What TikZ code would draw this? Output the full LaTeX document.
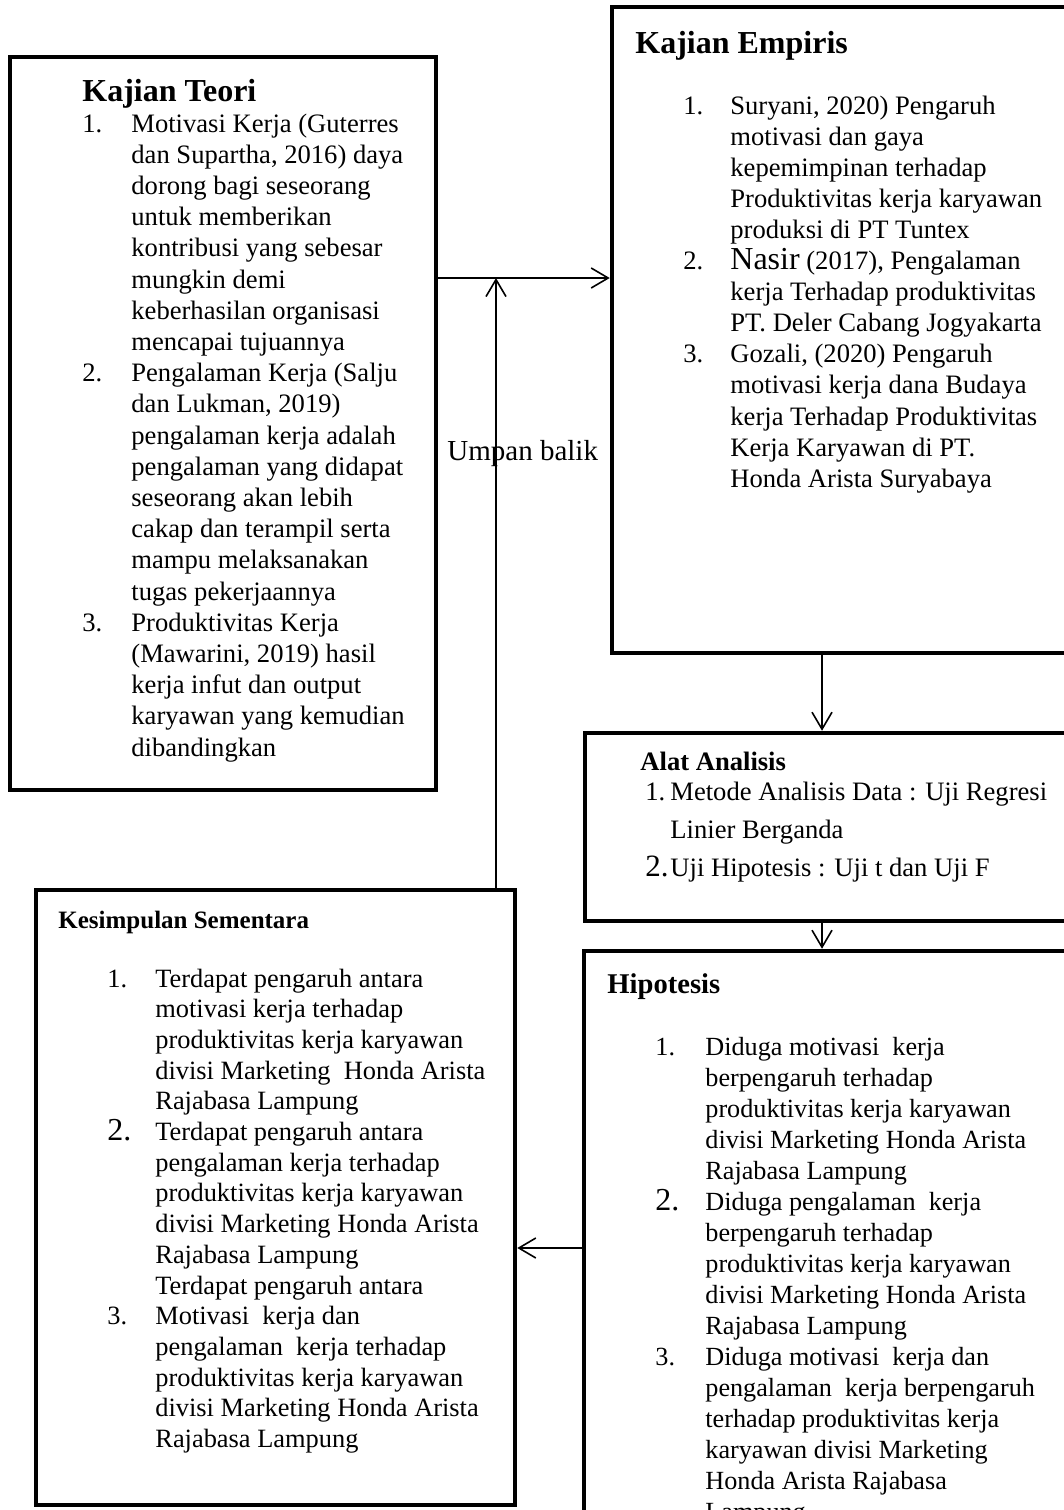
\documentclass[tikz,border=0pt]{standalone}
\usepackage{fontspec}
\setmainfont{Liberation Serif}
\usepackage{array}
\usetikzlibrary{arrows.meta}

\tikzset{
  kotak/.style={draw, line width=2.25pt, inner sep=0pt},
  panah/.style={-{Straight Barb[length=8.5pt,width=10pt]}, line width=0.8pt},
  isi/.style={inner sep=0pt, anchor=base west},
  judul/.style={inner sep=0pt, anchor=base west}
}

\begin{document}
\begin{tikzpicture}[x=0.5pt,y=-0.5pt]
\useasboundingbox (0,0) rectangle (1064,1510);
\clip (0,0) rectangle (1064,1510);

\node[kotak, minimum width=213pt, minimum height=366.5pt] (teori) at (223,423.5) {};
\node[kotak, minimum width=239pt, minimum height=323pt] (empiris) at (851,330) {};
\node[kotak, minimum width=252.5pt, minimum height=94pt] (alat) at (837.5,827) {};
\node[kotak, minimum width=253pt, minimum height=304.5pt] (hipotesis) at (837,1255.5) {};
\node[kotak, minimum width=239.5pt, minimum height=307.5pt] (kesimpulan) at (275.5,1197.5) {};

\coordinate (balik) at (496,278);
\coordinate (lajur) at (822,0);
\coordinate (bawah) at (0,1248);

\node[judul, font={\fontsize{16}{18}\selectfont\bfseries}] (teoriJudul) at (82,101) {Kajian Teori};
\node[isi, font={\fontsize{13.3}{15.6}\selectfont}] (teoriIsi) at (82,132) {%
\begin{tabular}[t]{@{}p{24.5pt}@{}l@{}}
1. & Motivasi Kerja (Guterres\\
 & dan Supartha, 2016) daya\\
 & dorong bagi seseorang\\
 & untuk memberikan\\
 & kontribusi yang sebesar\\
 & mungkin demi\\
 & keberhasilan organisasi\\
 & mencapai tujuannya\\
2. & Pengalaman Kerja (Salju\\
 & dan Lukman, 2019)\\
 & pengalaman kerja adalah\\
 & pengalaman yang didapat\\
 & seseorang akan lebih\\
 & cakap dan terampil serta\\
 & mampu melaksanakan\\
 & tugas pekerjaannya\\
3. & Produktivitas Kerja\\
 & (Mawarini, 2019) hasil\\
 & kerja infut dan output\\
 & karyawan yang kemudian\\
 & dibandingkan
\end{tabular}};

\node[judul, font={\fontsize{16}{18}\selectfont\bfseries}] (empirisJudul) at (635,53) {Kajian Empiris};
\node[isi, font={\fontsize{13.3}{15.55}\selectfont}] (empirisIsi) at (683,114) {%
\begin{tabular}[t]{@{}p{23.5pt}@{}l@{}}
1. & Suryani, 2020) Pengaruh\\
 & motivasi dan gaya\\
 & kepemimpinan terhadap\\
 & Produktivitas kerja karyawan\\
 & produksi di PT Tuntex\\
2. & {\fontsize{16}{15.55}\selectfont Nasir} (2017), Pengalaman\\
 & kerja Terhadap produktivitas\\
 & PT. Deler Cabang Jogyakarta\\
3. & Gozali, (2020) Pengaruh\\
 & motivasi kerja dana Budaya\\
 & kerja Terhadap Produktivitas\\
 & Kerja Karyawan di PT.\\
 & Honda Arista Suryabaya
\end{tabular}};

\node[judul, font={\fontsize{13.3}{15}\selectfont\bfseries}] (alatJudul) at (640,770) {Alat Analisis};
\node[isi, font={\fontsize{13.3}{19}\selectfont}] (alatIsi) at (645,800) {%
\begin{tabular}[t]{@{}p{12.5pt}@{}l@{}}
1. & Metode Analisis Data : Uji Regresi\\
 & Linier Berganda\\
{\fontsize{15.5}{19}\selectfont 2.} & Uji Hipotesis : Uji t dan Uji F
\end{tabular}};

\node[judul, font={\fontsize{14.3}{16}\selectfont\bfseries}] (hipotesisJudul) at (607,993) {Hipotesis};
\node[isi, font={\fontsize{13.1}{15.5}\selectfont}] (hipotesisIsi) at (655,1055) {%
\begin{tabular}[t]{@{}p{25pt}@{}l@{}}
1. & Diduga motivasi~ kerja\\
 & berpengaruh terhadap\\
 & produktivitas kerja karyawan\\
 & divisi Marketing Honda Arista\\
 & Rajabasa Lampung\\
{\fontsize{16}{15.5}\selectfont 2.} & Diduga pengalaman~ kerja\\
 & berpengaruh terhadap\\
 & produktivitas kerja karyawan\\
 & divisi Marketing Honda Arista\\
 & Rajabasa Lampung\\
3. & Diduga motivasi~ kerja dan\\
 & pengalaman~ kerja berpengaruh\\
 & terhadap produktivitas kerja\\
 & karyawan divisi Marketing\\
 & Honda Arista Rajabasa\\
 & Lampung
\end{tabular}};

\node[judul, font={\fontsize{12.5}{14}\selectfont\bfseries}] (kesimpulanJudul) at (58,928) {Kesimpulan Sementara};
\node[isi, font={\fontsize{13.2}{15.35}\selectfont}] (kesimpulanIsi) at (107,987) {%
\begin{tabular}[t]{@{}p{24pt}@{}l@{}}
1. & Terdapat pengaruh antara\\
 & motivasi kerja terhadap\\
 & produktivitas kerja karyawan\\
 & divisi Marketing~ Honda Arista\\
 & Rajabasa Lampung\\
{\fontsize{16}{15.35}\selectfont 2.} & Terdapat pengaruh antara\\
 & pengalaman kerja terhadap\\
 & produktivitas kerja karyawan\\
 & divisi Marketing Honda Arista\\
 & Rajabasa Lampung\\
 & Terdapat pengaruh antara\\
3. & Motivasi~ kerja dan\\
 & pengalaman~ kerja terhadap\\
 & produktivitas kerja karyawan\\
 & divisi Marketing Honda Arista\\
 & Rajabasa Lampung
\end{tabular}};

\node[isi, font={\fontsize{14.5}{16}\selectfont}] (umpan) at (447,460) {Umpan balik};

\draw[panah] (teori.east |- balik) -- (empiris.west |- balik);
\draw[panah] (kesimpulan.north -| balik) -- (balik);
\draw[panah] (empiris.south -| lajur) -- (alat.north -| lajur);
\draw[panah] (alat.south -| lajur) -- (hipotesis.north -| lajur);
\draw[panah] (hipotesis.west |- bawah) -- (kesimpulan.east |- bawah);
\end{tikzpicture}
\end{document}
